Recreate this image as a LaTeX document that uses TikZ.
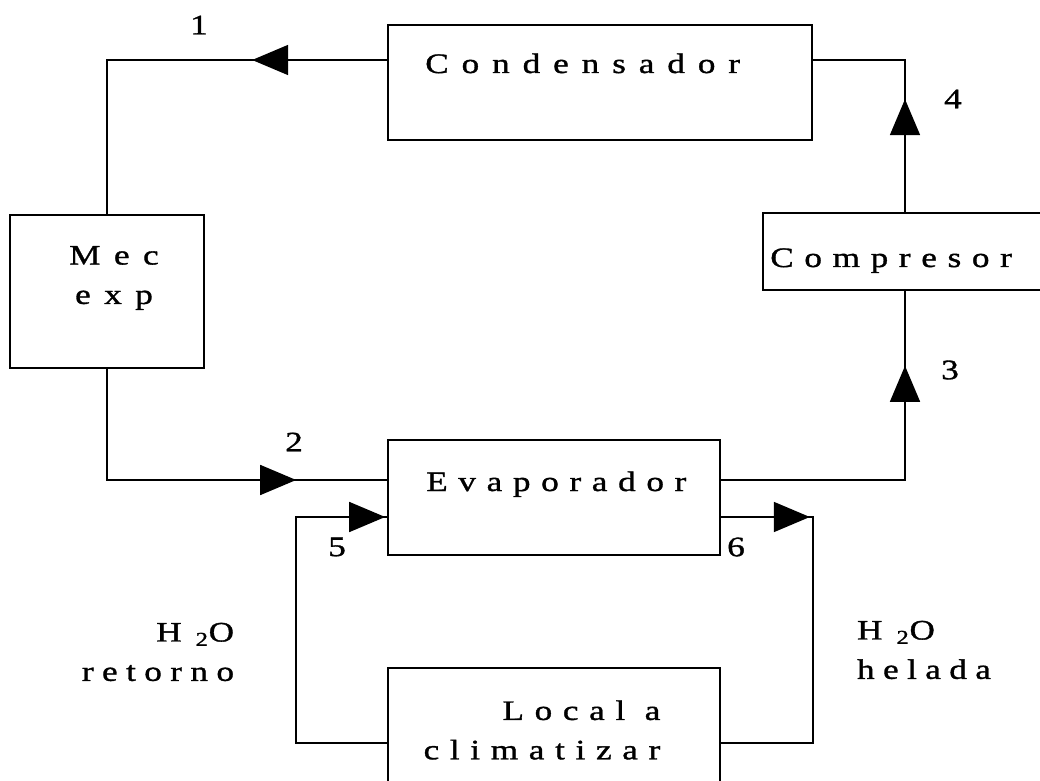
\documentclass[tikz,border=0pt]{standalone}
\usepackage{fontspec}
\setmainfont{Liberation Serif}[FakeStretch=1.25, FakeBold=1.2]
\usepackage{tikz}
\usetikzlibrary{arrows.meta,decorations.markings,positioning}

\begin{document}
\begin{tikzpicture}
    [blk/.style={
      rectangle,
      inner sep = 0cm,
      draw=black,line width=1.2pt,fill=#1
      },
    blk/.default=white,
    txt/.style={inner sep=0cm, font=\fontsize{20}{28}\selectfont\addfontfeature{LetterSpace=#1}},
    txt/.default=38,
    num/.style={inner sep=0cm, font=\fontsize{20}{24}\selectfont},
    pipe/.style={line width=1.2pt},
    flow/.style={pipe, postaction={decorate},
      decoration={markings, mark=at position #1 with {\arrow{Triangle[length=0.9cm,width=0.75cm]}}}}]

    \clip (0,0) rectangle (26,19.5);

    % equipos
    \node (cond) [blk, minimum width=10.6cm, minimum height=2.875cm] at (15,17.4375) {};
    \node (mec)  [blk, minimum width=4.85cm, minimum height=3.825cm] at (2.675,12.2125) {};
    \node (comp) [blk, minimum width=7.1cm, minimum height=1.925cm] at (22.625,13.2125) {};
    \node (evap) [blk, minimum width=8.3cm, minimum height=2.875cm] at (13.85,7.0625) {};
    \node (loc)  [blk, minimum width=8.3cm, minimum height=3.75cm] at (13.85,0.925) {};

    \node (condT) [txt=46, anchor=base west] at (10.625,17.675) {Condensador};
    \node (mecT)  [txt=48, align=center] at (2.85,12.55) {Mec\\exp};
    \node (compT) [txt, anchor=base west] at (19.25,12.825) {Compresor};
    \node (evapT) [txt, anchor=base west] at (10.65,7.225) {Evaporador};
    \node (locT)  [txt, align=right] at (13.55,1.25) {Local a\\climatizar};
    \node (ret)   [txt=30, align=right] at (3.95,3.2) {H\enspace\textsubscript{2}O\\retorno};
    \node (hel)   [txt=30, align=left] at (23.1,3.25) {H\enspace\textsubscript{2}O\\helada};

    % puntos del ciclo
    \node (n1) [num] at (4.975,18.875) {1}; \node (n2) [num] at (7.35,8.45) {2};
    \node (n3) [num] at (23.75,10.25) {3};  \node (n4) [num] at (23.825,17.025) {4};
    \node (n5) [num] at (8.425,5.825) {5};  \node (n6) [num] at (18.4,5.825) {6};

    \draw[flow=3.375cm] ([yshift=0.5625cm]cond.west) -| (mec.north);
    \draw[flow=-2.275cm] (mec.south) |- ([yshift=0.4375cm]evap.west);
    \draw[flow=-1.875cm] ([yshift=0.4375cm]evap.east) -| (comp.south);
    \draw[flow=2.825cm] (comp.north) |- ([yshift=0.5625cm]cond.east);
    \draw[flow=-0.05cm] (loc.west) -- ++(-2.275,0) |- ([yshift=-0.4875cm]evap.west);
    \draw[flow=2.225cm] ([yshift=-0.4875cm]evap.east) -- ++(2.3,0) |- (loc.east);

  \end{tikzpicture}
\end{document}
